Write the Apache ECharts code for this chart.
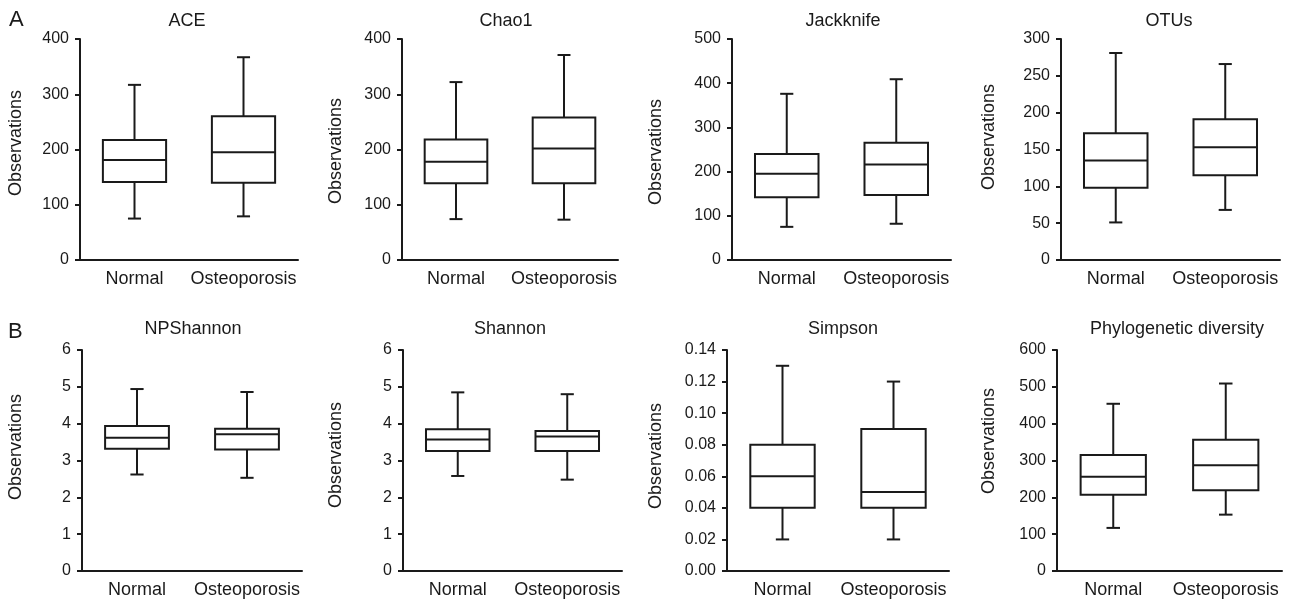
<!DOCTYPE html>
<html>
<head>
<meta charset="utf-8">
<script src="https://cdn.jsdelivr.net/npm/echarts@6/dist/echarts.min.js"></script>
<style>
html,body{margin:0;padding:0;background:#fff;}
#chart{width:1296px;height:602px;}
</style>
</head>
<body>
<div id="chart"></div>
<script>
// ---- data: each group is [min, Q1, median, Q3, max] ----
const categories = ['Normal', 'Osteoporosis'];
const panelTitles = ['ACE', 'Chao1', 'Jackknife', 'OTUs', 'NPShannon', 'Shannon', 'Simpson', 'Phylogenetic diversity'];
const aceData = [[75, 141, 181, 217, 317], [79, 140, 195, 260, 367]];
const chao1Data = [[74, 139, 178, 218, 322], [73, 139, 202, 258, 371]];
const jackknifeData = [[75, 142, 195, 240, 376], [82, 147, 216, 265, 409]];
const otusData = [[51, 98, 135, 172, 281], [68, 115, 153, 191, 266]];
const npShannonData = [[2.62, 3.32, 3.62, 3.94, 4.94], [2.53, 3.30, 3.71, 3.86, 4.86]];
const shannonData = [[2.58, 3.26, 3.57, 3.85, 4.85], [2.48, 3.26, 3.65, 3.80, 4.80]];
const simpsonData = [[0.02, 0.04, 0.06, 0.08, 0.13], [0.02, 0.04, 0.05, 0.09, 0.12]];
const pdData = [[117, 207, 256, 315, 454], [153, 219, 287, 356, 509]];
const yMaxes = [400, 400, 500, 300, 6, 6, 0.14, 600];
const yIntervals = [100, 100, 100, 50, 1, 1, 0.02, 100];
const yAxisName = 'Observations';
const panelLetters = ['A', 'B'];

const allData = [aceData, chao1Data, jackknifeData, otusData, npShannonData, shannonData, simpsonData, pdData];

// ---- layout ----
const gridBoxes = [
  {left: 80, top: 39, width: 218, height: 221},
  {left: 402, top: 39, width: 216, height: 221},
  {left: 732, top: 39, width: 219, height: 221},
  {left: 1061, top: 39, width: 219, height: 221},
  {left: 82, top: 350, width: 220, height: 221},
  {left: 403, top: 350, width: 219, height: 221},
  {left: 727, top: 350, width: 222, height: 221},
  {left: 1057, top: 350, width: 225, height: 221}
];
const titlePos = [[187, 21], [506, 21], [843, 21], [1169, 21], [193, 329], [510, 329], [843, 329], [1177, 329]];
const namePos = [[16, 143], [336, 151], [656, 152], [989, 137], [16, 447], [336, 455], [656, 456], [989, 441]];
const ink = '#1a1a1a';
const FONT = '"Liberation Sans", Arial, sans-serif';

const grids = [], xAxes = [], yAxes = [], series = [], graphics = [];

allData.forEach((d, i) => {
  const g = gridBoxes[i];
  grids.push({left: g.left, top: g.top, width: g.width, height: g.height, containLabel: false});
  xAxes.push({
    type: 'category', gridIndex: i, data: categories, boundaryGap: true,
    axisLine: {lineStyle: {color: ink, width: 2}},
    axisTick: {show: false},
    axisLabel: {color: ink, fontSize: 18, fontFamily: FONT, margin: 10, interval: 0, hideOverlap: false}
  });
  const dec = yIntervals[i] < 0.1 ? 2 : 0;
  yAxes.push({
    type: 'value', gridIndex: i, min: 0, max: yMaxes[i], interval: yIntervals[i],
    axisLine: {show: true, lineStyle: {color: ink, width: 2}},
    axisTick: {show: true, length: 5, lineStyle: {color: ink, width: 2}},
    axisLabel: {color: ink, fontSize: 16, fontFamily: FONT, margin: 11,
      formatter: v => dec ? v.toFixed(dec) : String(v)},
    splitLine: {show: false}
  });
  series.push({
    type: 'custom', xAxisIndex: i, yAxisIndex: i,
    data: d.map((s, k) => [k].concat(s)),
    encode: {x: 0, y: [1, 2, 3, 4, 5]},
    renderItem: function (params, api) {
      const xi = api.value(0);
      const pMin = api.coord([xi, api.value(1)]);
      const pQ1 = api.coord([xi, api.value(2)]);
      const pMed = api.coord([xi, api.value(3)]);
      const pQ3 = api.coord([xi, api.value(4)]);
      const pMax = api.coord([xi, api.value(5)]);
      const band = api.size([1, 0])[0];
      const bw = band * 0.58, cw = band * 0.12;
      const cx = pMin[0];
      const st = {stroke: ink, lineWidth: 2, fill: null};
      return {
        type: 'group',
        children: [
          {type: 'line', shape: {x1: cx, y1: pMax[1], x2: cx, y2: pQ3[1]}, style: st},
          {type: 'line', shape: {x1: cx, y1: pQ1[1], x2: cx, y2: pMin[1]}, style: st},
          {type: 'line', shape: {x1: cx - cw / 2, y1: pMax[1], x2: cx + cw / 2, y2: pMax[1]}, style: st},
          {type: 'line', shape: {x1: cx - cw / 2, y1: pMin[1], x2: cx + cw / 2, y2: pMin[1]}, style: st},
          {type: 'rect', shape: {x: cx - bw / 2, y: pQ3[1], width: bw, height: pQ1[1] - pQ3[1]},
            style: {stroke: ink, lineWidth: 2, fill: '#fff'}},
          {type: 'line', shape: {x1: cx - bw / 2, y1: pMed[1], x2: cx + bw / 2, y2: pMed[1]}, style: st}
        ]
      };
    }
  });
  graphics.push({
    type: 'text',
    x: titlePos[i][0], y: titlePos[i][1],
    style: {text: panelTitles[i], fill: ink, font: '18px ' + FONT, textAlign: 'center', textVerticalAlign: 'middle'}
  });
  graphics.push({
    type: 'text',
    x: namePos[i][0], y: namePos[i][1], rotation: Math.PI / 2,
    style: {text: yAxisName, fill: ink, font: '18px ' + FONT, textAlign: 'center', textVerticalAlign: 'middle'}
  });
});

graphics.push({type: 'text', x: 9, y: 20, style: {text: panelLetters[0], fill: ink, font: '22px ' + FONT, textVerticalAlign: 'middle'}});
graphics.push({type: 'text', x: 8, y: 332, style: {text: panelLetters[1], fill: ink, font: '22px ' + FONT, textVerticalAlign: 'middle'}});

const chart = echarts.init(document.getElementById('chart'), null, {renderer: 'canvas'});
chart.setOption({
  animation: false,
  backgroundColor: '#fff',
  grid: grids, xAxis: xAxes, yAxis: yAxes, series: series,
  graphic: graphics
});
</script>
</body>
</html>
